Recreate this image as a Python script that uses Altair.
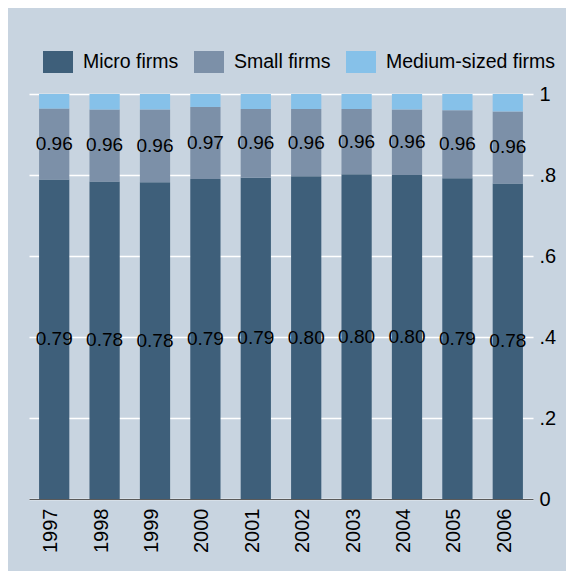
import altair as alt
import pandas as pd

years = ["1997", "1998", "1999", "2000", "2001", "2002", "2003", "2004", "2005", "2006"]
micro = [0.789, 0.784, 0.782, 0.790, 0.793, 0.797, 0.802, 0.800, 0.792, 0.779]
small_top = [0.964, 0.962, 0.962, 0.968, 0.963, 0.963, 0.963, 0.962, 0.960, 0.957]
total = [1.0] * 10
series = ["Micro firms", "Small firms", "Medium-sized firms"]
colors = ["#3e5f7a", "#7c90a8", "#86c1e9"]
y_ticks = [0, 0.2, 0.4, 0.6, 0.8, 1.0]

rows = []
lab = []
for i, yr in enumerate(years):
    rows.append(dict(year=yr, series=series[0], y0=0.0, y1=micro[i]))
    rows.append(dict(year=yr, series=series[1], y0=micro[i], y1=small_top[i]))
    rows.append(dict(year=yr, series=series[2], y0=small_top[i], y1=total[i]))
    lab.append(dict(year=yr, mid=micro[i] / 2, text=f"{micro[i]:.2f}"))
    lab.append(dict(year=yr, mid=(micro[i] + small_top[i]) / 2, text=f"{small_top[i]:.2f}"))
bars_df = pd.DataFrame(rows)
lab_df = pd.DataFrame(lab)

FONT = "Liberation Sans"
BG = "#c8d4e0"

x_axis = alt.Axis(title=None, labelAngle=-90, labelAlign="right", labelBaseline="alphabetic",
                  labelPadding=9, labelOffset=3, ticks=False, tickSize=0, grid=False,
                  domainColor="#5a5a5a", domainWidth=1, labelFontSize=20, labelColor="black",
                  labelFont=FONT)
x_scale = alt.Scale(paddingInner=0.4, paddingOuter=0.2)
y_axis = alt.Axis(title=None, orient="right", values=y_ticks,
                  labelExpr="datum.value == 0 ? '0' : datum.value == 1 ? '1' : '.' + round(datum.value * 10)",
                  domain=False, ticks=False, tickSize=0, gridColor="white", gridWidth=1.6,
                  labelPadding=6, labelFontSize=20, labelColor="black", labelFont=FONT,
                  labelAlign="left", labelBaseline="middle")
y_scale = alt.Scale(domain=[0, 1], nice=False)

bars = alt.Chart(bars_df).mark_bar().encode(
    x=alt.X("year:N", scale=x_scale, axis=x_axis, sort=years),
    y=alt.Y("y0:Q", scale=y_scale, axis=y_axis),
    y2="y1:Q",
    color=alt.Color("series:N", scale=alt.Scale(domain=series, range=colors),
                    legend=alt.Legend(orient="none", legendX=14, legendY=-47, direction="horizontal",
                                      title=None,
                                      symbolType="M-1,-0.733L1,-0.733L1,0.733L-1,0.733Z",
                                      symbolSize=900, symbolStrokeWidth=0, symbolOpacity=1,
                                      labelFontSize=19.5, labelFont=FONT, labelColor="black",
                                      labelLimit=400, labelOffset=10, columnPadding=15)),
)

texts = alt.Chart(lab_df).mark_text(fontSize=19, font=FONT, color="black",
                                    align="center", baseline="middle").encode(
    x=alt.X("year:N", scale=x_scale, axis=x_axis, sort=years),
    y=alt.Y("mid:Q", scale=y_scale, axis=y_axis),
    text="text:N",
)

chart = alt.layer(bars, texts).properties(
    width=504, height=405,
    autosize=alt.AutoSizeParams(type="none"),
    padding={"left": 21, "top": 86, "right": 33, "bottom": 72},
).configure(background=BG, font=FONT).configure_view(strokeWidth=0, fill=BG)

chart.save("out.html", embed_options={"renderer": "svg", "actions": False})
